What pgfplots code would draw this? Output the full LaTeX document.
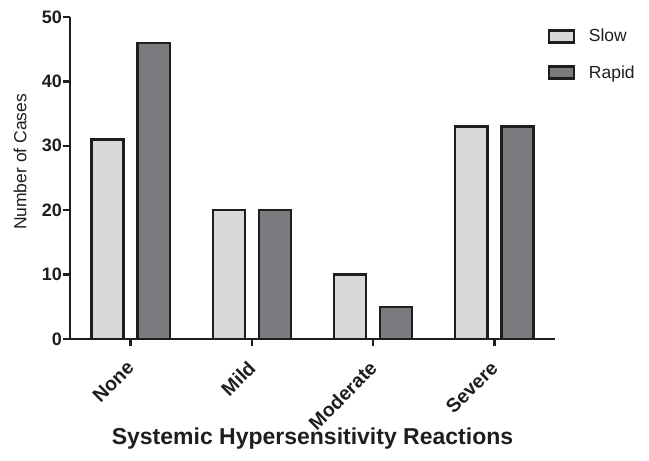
\documentclass[border=0pt]{standalone}
\usepackage{pgfplots}
\pgfplotsset{compat=1.18}
\usepackage{fontspec}
\setmainfont{Liberation Sans}
\definecolor{slowgray}{RGB}{215,216,218}
\definecolor{rapidgray}{RGB}{122,123,126}
\definecolor{edge}{RGB}{30,30,30}
\begin{document}
\begin{tikzpicture}
\useasboundingbox (-70pt,-122pt) rectangle (579pt,339pt);
\begin{axis}[
  at={(0,0)}, anchor=south west,
  scale only axis, width=485pt, height=322pt,
  xmin=-0.5, xmax=3.5, ymin=0, ymax=50,
  axis lines=left, axis line style={-, line width=2.4pt, edge},
  ytick={0,10,20,30,40,50},
  xtick={0,1,2,3},
  xticklabels={None,Mild,Moderate,Severe},
  tick align=outside, major tick length=7pt,
  every tick/.style={line width=2.4pt, edge},
  /pgf/number format/assume math mode=true,
  yticklabel style={font=\bfseries\fontsize{18}{18}\selectfont, text=edge, inner sep=1pt},
  xticklabel style={font=\bfseries\fontsize{19.5}{19.5}\selectfont, text=edge,
    rotate=45, anchor=north east, inner sep=0pt, xshift=-13pt, yshift=-6pt},
  ylabel={Number of Cases},
  ylabel style={font=\fontsize{17.5}{17.5}\selectfont, text=edge,
    at={(axis description cs:0,0.55)}, anchor=center, yshift=50pt},
  xlabel={Systemic Hypersensitivity Reactions},
  xlabel style={font=\bfseries\fontsize{23}{23}\selectfont, text=edge,
    at={(axis description cs:0.5,0)}, anchor=center, yshift=-100pt},
  ybar, bar width=0.265,
  clip=false,
  legend style={at={(0.978,0.975)}, anchor=north west, draw=none, fill=none,
    font=\fontsize{17.5}{17.5}\selectfont, row sep=18pt, text=edge},
  legend cell align=left,
  legend image code/.code={\draw[#1, line width=2.4pt] (0pt,-6pt) rectangle (25pt,6pt); \path (37pt,0pt);},
]
\addplot[fill=slowgray, draw=edge, line width=2.4pt, bar shift=-0.19]
  coordinates {(0,31) (1,20) (2,10) (3,33)};
\addplot[fill=rapidgray, draw=edge, line width=2.4pt, bar shift=0.19]
  coordinates {(0,46) (1,20) (2,5) (3,33)};
\legend{Slow, Rapid}
\end{axis}
\end{tikzpicture}
\end{document}
